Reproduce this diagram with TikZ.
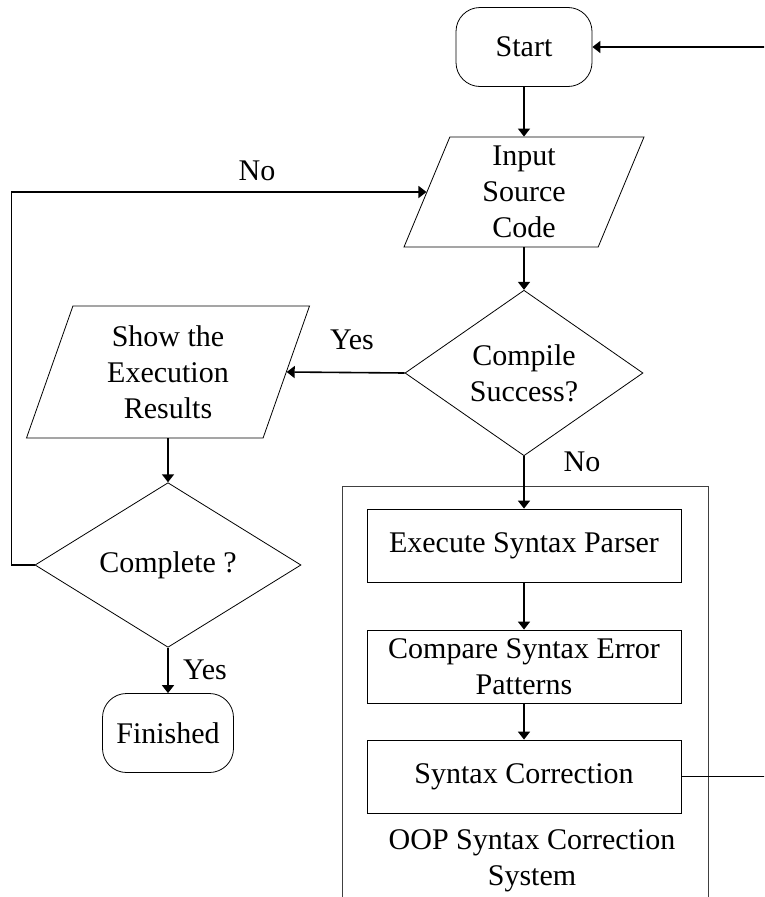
\documentclass[tikz,border=0pt]{standalone}
\usepackage{fontspec}
\setmainfont{Liberation Serif}
\usetikzlibrary{positioning,calc}
\usetikzlibrary{arrows.meta}
\usetikzlibrary{shapes.geometric}

\begin{document}
\begin{tikzpicture}[x=1pt, y=-1pt, >={Triangle[length=8pt,width=12pt]},
  every node/.style={font=\fontsize{30}{36}\selectfont, inner sep=0pt},
  term/.style={draw, line width=0.8pt, rounded corners=24pt, minimum width=#1, minimum height=79pt},
  iobox/.style={draw, line width=0.8pt, trapezium, trapezium left angle=63.5, trapezium right angle=116.5, trapezium stretches body, align=center},
  decide/.style={draw, line width=0.8pt, diamond, align=center},
  procbox/.style={draw, line width=0.8pt, minimum width=314pt, minimum height=73pt, align=center},
  flow/.style={->, line width=1.6pt}]
\useasboundingbox (0,0) rectangle (764,897);
\clip (0,0) rectangle (764,897);

% main column
\node [term=136pt] (start) at (524,47) {Start};
\node [iobox, minimum width=240pt, minimum height=110pt] (input) at (524,192) {Input\\Source\\Code};
\node [decide, minimum width=238pt, minimum height=142pt] (compile) at (524,373) {Compile\\Success?};

% left column
\node [iobox, minimum width=283pt, minimum height=132pt] (show) at (168,372) {Show the\\Execution\\Results};
\node [decide, minimum width=266pt, minimum height=159pt] (complete) at (168,565) {Complete ?};
\node [term=131pt] (finished) at (168,733) {Finished};

% correction system
\node [draw, line width=0.9pt, draw=black!75, minimum width=366pt, minimum height=444pt] (oopbox) at (525,708) {};
\node [procbox] (parser) at (524,545.5) {Execute Syntax Parser};
\node [procbox] (compare) at (524,666.5) {Compare Syntax Error\\Patterns};
\node [procbox] (correct) at (524,776.5) {Syntax Correction};
\node [align=center] (oopname) at (532,861) {OOP Syntax Correction\\System};

\draw [flow] (start.south) -- (input.north -| start.south);
\draw [flow] (compile.north |- input.south) -- (compile.north);
\draw [flow] (compile.west) -- (show.east);
\draw [flow] (complete.north |- show.south) -- (complete.north);
\draw [flow] (complete.south) -- (finished.north);
\draw [flow] (complete.west) -- ++(-23,0) |- (input.west);
\draw [flow] (compile.south) -- (parser.north);
\draw [flow] (parser.south) -- (compare.north);
\draw [flow] (compare.south) -- (correct.north);
\draw [flow] (correct.east) -- ++(110,0) |- (start.east);

% labels
\node (noloop) at (257,171) {No};
\node (yesshow) at (352,340) {Yes};
\node (nofix) at (582,462) {No};
\node (yesdone) at (205,670) {Yes};
\end{tikzpicture}
\end{document}
